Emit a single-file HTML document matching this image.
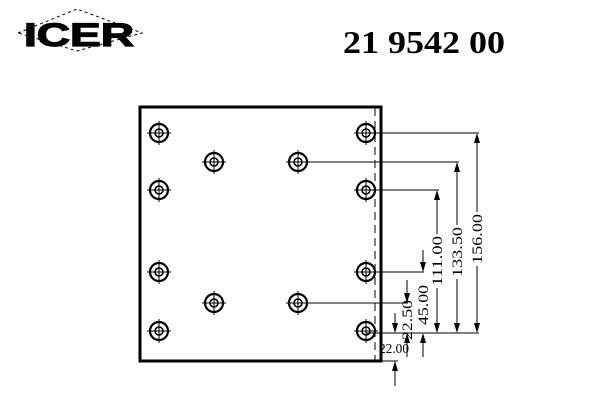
<!DOCTYPE html><html><head><style>body{margin:0;background:#fff}svg{display:block}</style></head><body>
<svg width="600" height="400" xmlns="http://www.w3.org/2000/svg" font-family="Liberation Serif, serif">
<polygon points="18,33 77,9 142,33 77,51" fill="none" stroke="#000" stroke-dasharray="3,3"/>
<text x="24" y="46" font-family="Liberation Sans, sans-serif" font-weight="900" font-size="32" stroke="#000" stroke-width="1.2" textLength="110" lengthAdjust="spacingAndGlyphs">ICER</text>
<text x="343" y="53" font-weight="bold" font-size="32" textLength="162" lengthAdjust="spacingAndGlyphs">21 9542 00</text>
<rect x="140" y="107" width="241" height="254" fill="none" stroke="#000" stroke-width="3"/>
<line x1="375" y1="108" x2="375" y2="360" stroke="#000" stroke-dasharray="8,5"/>
<g stroke="#000" fill="none">
<line x1="366" y1="133" x2="479" y2="133"/><line x1="298" y1="162" x2="459" y2="162"/>
<line x1="366" y1="190" x2="439" y2="190"/><line x1="366" y1="272" x2="424" y2="272"/>
<line x1="298" y1="303" x2="408" y2="303"/><line x1="366" y1="333" x2="479" y2="333"/>
<line x1="381" y1="361" x2="398" y2="361"/>
<line x1="477" y1="136" x2="477" y2="212"/><line x1="477" y1="266" x2="477" y2="330"/>
<line x1="457" y1="165" x2="457" y2="225"/><line x1="457" y1="279" x2="457" y2="330"/>
<line x1="437" y1="193" x2="437" y2="234"/><line x1="437" y1="288" x2="437" y2="330"/>
<line x1="423" y1="250" x2="423" y2="270"/><line x1="423" y1="336" x2="423" y2="357"/>
<line x1="407" y1="280" x2="407" y2="300"/><line x1="407" y1="336" x2="407" y2="357"/>
<line x1="395" y1="313" x2="395" y2="330"/><line x1="395" y1="364" x2="395" y2="386"/>
</g>
<g fill="#000">
<path d="M477,133l-3,10h6z M477,333l-3,-10h6z M457,162l-3,10h6z M457,333l-3,-10h6z M437,190l-3,10h6z M437,333l-3,-10h6z M423,272l-3,-10h6z M423,333l-3,10h6z M407,303l-3,-10h6z M407,333l-3,10h6z M395,333l-3,-10h6z M395,361l-3,10h6z"/>
</g>
<g font-size="15">
<text transform="translate(482,239) rotate(-90)" text-anchor="middle" textLength="50" lengthAdjust="spacingAndGlyphs">156.00</text>
<text transform="translate(462,252) rotate(-90)" text-anchor="middle" textLength="50" lengthAdjust="spacingAndGlyphs">133.50</text>
<text transform="translate(442,261) rotate(-90)" text-anchor="middle" textLength="50" lengthAdjust="spacingAndGlyphs">111.00</text>
<text transform="translate(428,305) rotate(-90)" text-anchor="middle" textLength="40" lengthAdjust="spacingAndGlyphs">45.00</text>
<text transform="translate(412,320) rotate(-90)" text-anchor="middle" textLength="40" lengthAdjust="spacingAndGlyphs">22.50</text>
<text x="379" y="353" font-size="14" textLength="30" lengthAdjust="spacingAndGlyphs">22.00</text>
</g>
<defs><g id="h"><circle r="9" fill="none" stroke="#000" stroke-width="2.2"/><circle r="4" fill="none" stroke="#000" stroke-width="1.5"/><path d="M-12,0h24M0,-12v24" stroke="#000"/></g></defs>
<use href="#h" x="159" y="133"/><use href="#h" x="159" y="190"/><use href="#h" x="159" y="272"/><use href="#h" x="159" y="331"/>
<use href="#h" x="366" y="133"/><use href="#h" x="366" y="190"/><use href="#h" x="366" y="272"/><use href="#h" x="366" y="331"/>
<use href="#h" x="214" y="162"/><use href="#h" x="298" y="162"/><use href="#h" x="214" y="303"/><use href="#h" x="298" y="303"/>
</svg></body></html>
